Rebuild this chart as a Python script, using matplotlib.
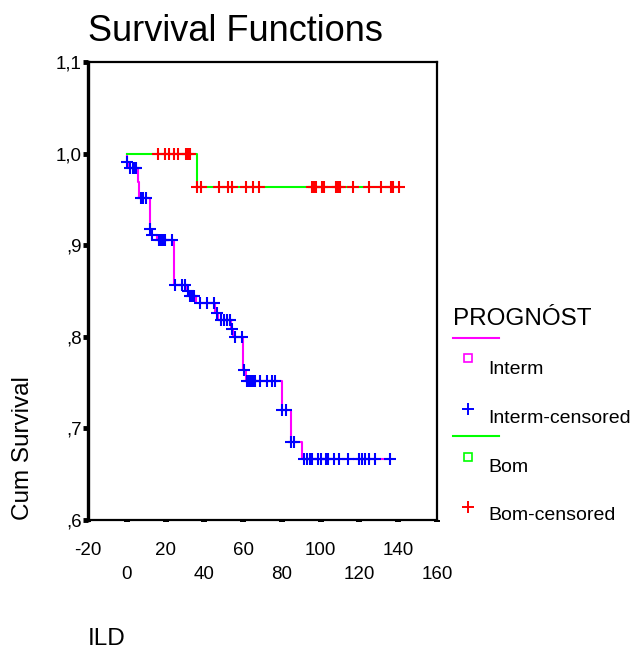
import numpy as np
import matplotlib.pyplot as plt
from matplotlib.lines import Line2D

plt.rcParams['font.family'] = ['Liberation Sans', 'DejaVu Sans']

# Interm group: event times and survival after each step
interm_event_t = [0.2, 1.1, 5.6, 6.4, 11.8, 12.5, 15.5, 24.3, 31.0, 32.0, 35.5,
                  45.5, 47.0, 53.8, 55.0, 60.0, 61.5, 79.9, 84.5, 90.2]
interm_surv = [0.991, 0.984, 0.969, 0.951, 0.918, 0.911, 0.906, 0.857, 0.850, 0.844,
               0.837, 0.826, 0.818, 0.8085, 0.7995, 0.764, 0.752, 0.720, 0.6855, 0.667]
interm_cens_t = [0.3, 1.7, 3.4, 4.2, 5.0, 7.2, 8.6, 10.0, 12.0, 12.8, 16.6, 17.5, 18.5,
                 19.5, 23.5, 24.9, 28.3, 30.0, 31.6, 32.5, 33.5, 34.5, 37.8, 41.2, 45.0,
                 46.4, 48.5, 50.0, 51.5, 53.0, 54.1, 55.8, 59.3, 60.4, 62.0, 63.0, 64.0,
                 65.0, 66.0, 68.7, 72.2, 75.0, 76.5, 80.3, 82.0, 84.8, 86.5, 91.5, 93.0,
                 94.5, 95.5, 98.8, 100.2, 102.5, 104.0, 107.0, 109.4, 113.9, 120.0,
                 121.5, 123.0, 125.0, 128.0, 135.7]

# Bom group
bom_event_t = [36.0]
bom_surv = [0.963]
bom_cens_t = [15.9, 19.7, 21.9, 24.2, 26.3, 30.8, 31.8, 32.8, 36.2, 38.1, 47.5, 52.0,
              54.1, 61.5, 65.1, 68.0, 95.5, 96.5, 97.5, 100.5, 101.9, 108.0, 109.0,
              110.0, 116.8, 124.9, 130.9, 136.5, 137.5, 140.2]

x_ticks = np.arange(-20, 161, 20)
y_ticks = [0.6, 0.7, 0.8, 0.9, 1.0, 1.1]
y_labels = [',6', ',7', ',8', ',9', '1,0', '1,1']


def km_curve(event_t, surv, cens_t):
    levels = np.array([1.0] + list(surv))
    t = [0.0] + list(event_t) + [max(cens_t)]
    s = list(levels) + [levels[-1]]
    cens_s = levels[np.searchsorted(event_t, cens_t, side='right')]
    return t, s, cens_s


fig = plt.figure(figsize=(6.41, 6.5), dpi=100)
ax = fig.add_axes([88 / 641, 1 - 520 / 650, 349 / 641, 458 / 650])

groups = [
    (interm_event_t, interm_surv, interm_cens_t, '#ff00ff', '#0000ff'),
    (bom_event_t, bom_surv, bom_cens_t, '#00ff00', '#ff0000'),
]
for event_t, surv, cens_t, line_col, cens_col in groups:
    t, s, cens_s = km_curve(event_t, surv, cens_t)
    ax.step(t, s, where='post', color=line_col, lw=1.5, zorder=2)
    ax.plot(cens_t, cens_s, ls='none', marker='+', ms=8, mew=1.5,
            color=cens_col, zorder=3)

ax.set_xlim(-20, 160)
ax.set_ylim(0.6, 1.1)
ax.set_xticks(x_ticks)
ax.set_xticklabels([str(v) if i % 2 == 0 else '\n' + str(v) for i, v in enumerate(x_ticks)],
                   fontsize=13.5)
for lab in ax.get_xticklabels():
    lab.set_linespacing(1.6)
ax.set_yticks(y_ticks)
ax.set_yticklabels(y_labels, fontsize=13.5)
ax.tick_params(axis='x', direction='out', length=1.6, width=4.3, pad=14)
ax.tick_params(axis='y', direction='out', length=3.5, width=3.5, pad=1)

for side in ['top', 'right', 'bottom']:
    ax.spines[side].set_linewidth(1.6)
ax.spines['left'].set_linewidth(2.4)

ax.set_title('Survival Functions', loc='left', fontsize=26, pad=15)
ax.set_ylabel('Cum Survival', loc='bottom', fontsize=17.5)
ax.yaxis.set_label_coords(-0.155, 0.0)
ax.set_xlabel('ILD', loc='left', fontsize=17.5)
ax.xaxis.set_label_coords(0.0, -0.236)

# legend drawn by hand (SPSS style)
def fx(px):
    return px / 641


def fy(py):
    return 1 - py / 650


fig.text(fx(453), fy(325), 'PROGNÓST', fontsize=17.5, va='baseline')
entries = [
    (338, '#ff00ff', 's', 358, 'Interm', 374),
    (None, '#0000ff', '+', 408.5, 'Interm-censored', 423),
    (436, '#00ff00', 's', 456.5, 'Bom', 472),
    (None, '#ff0000', '+', 506.5, 'Bom-censored', 520),
]
for line_y, col, mk, mk_y, text, text_y in entries:
    if line_y is not None:
        fig.add_artist(Line2D([fx(453), fx(499)], [fy(line_y), fy(line_y)],
                              color=col, lw=1.5, transform=fig.transFigure))
    if mk == 's':
        fig.add_artist(Line2D([fx(468)], [fy(mk_y)], marker='s', ms=5.5, mfc='none',
                              mec=col, mew=1.2, transform=fig.transFigure))
    else:
        fig.add_artist(Line2D([fx(468)], [fy(mk_y)], marker='+', ms=8, mew=1.4,
                              color=col, transform=fig.transFigure))
    fig.text(fx(488), fy(text_y), text, fontsize=14, va='baseline')

fig.savefig('out.png', dpi=100)
